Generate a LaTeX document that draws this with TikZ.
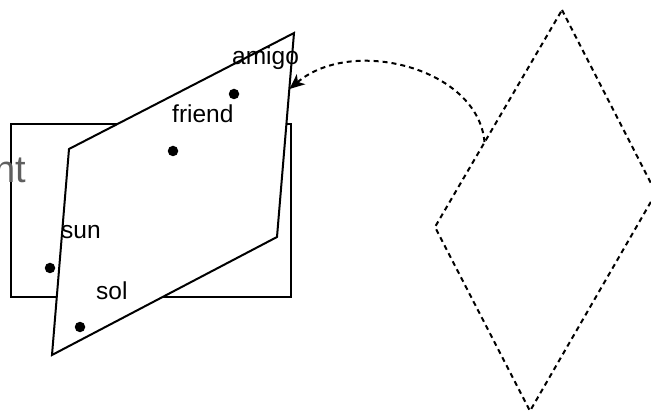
\documentclass[tikz,border=0pt]{standalone}
\usepackage{fontspec}
\setmainfont{Liberation Sans}
\usetikzlibrary{arrows.meta}
\definecolor{txtgray}{HTML}{5F5F5F}
\tikzset{
  solidline/.style={draw=black, line width=2pt, line join=miter},
  dashline/.style={draw=black, line width=2pt, dash pattern=on 5pt off 4pt},
  lbl/.style={inner sep=0pt, anchor=base west, font=\fontsize{24.5}{24.5}\selectfont, text=black},
  pt/.style={circle, fill=black, inner sep=0pt, minimum size=10.5pt}
}
\begin{document}
\begin{tikzpicture}[x=1pt,y=-1pt]
\useasboundingbox (0,0) rectangle (651,414);
\begin{scope}
\clip (0,0) rectangle (651,414);
% back rectangle
\draw[solidline] (11,124) rectangle (291,297);
% gray clipped text
\node[inner sep=0pt, anchor=base east, font=\fontsize{38}{38}\selectfont, text=txtgray] (nt) at (26,183) {nt};
% parallelogram
\coordinate (pTL) at (69,149);
\coordinate (pTR) at (294,33);
\coordinate (pBR) at (277,237);
\coordinate (pBL) at (52,355);
\filldraw[solidline, fill=white] (pTL) -- (pTR) -- (pBR) -- (pBL) -- cycle;
% diamond
\coordinate (dT) at (562,10);
\coordinate (dR) at (656,193);
\coordinate (dB) at (530,411);
\coordinate (dL) at (435,227);
\draw[dashline] (dT) -- (dR) -- (dB) -- (dL) -- cycle;
% dots
\node[pt] (dAmigo) at (234,94) {};
\node[pt] (dFriend) at (173,151) {};
\node[pt] (dSun) at (50,268) {};
\node[pt] (dSol) at (80,327) {};
% labels
\node[lbl] (amigo) at (232,65) {amigo};
\node[lbl] (friend) at (172,123) {friend};
\node[lbl] (sun) at (61,239) {sun};
\node[lbl] (sol) at (96,299) {sol};
% arrow
\coordinate (arrS) at (484.5,142);
\coordinate (arrE) at (289.5,89);
\draw[dashline, -{Stealth[length=15pt,width=13pt,inset=4pt]}] (arrS) .. controls (478,68) and (352,36) .. (arrE);
\end{scope}
\end{tikzpicture}
\end{document}
